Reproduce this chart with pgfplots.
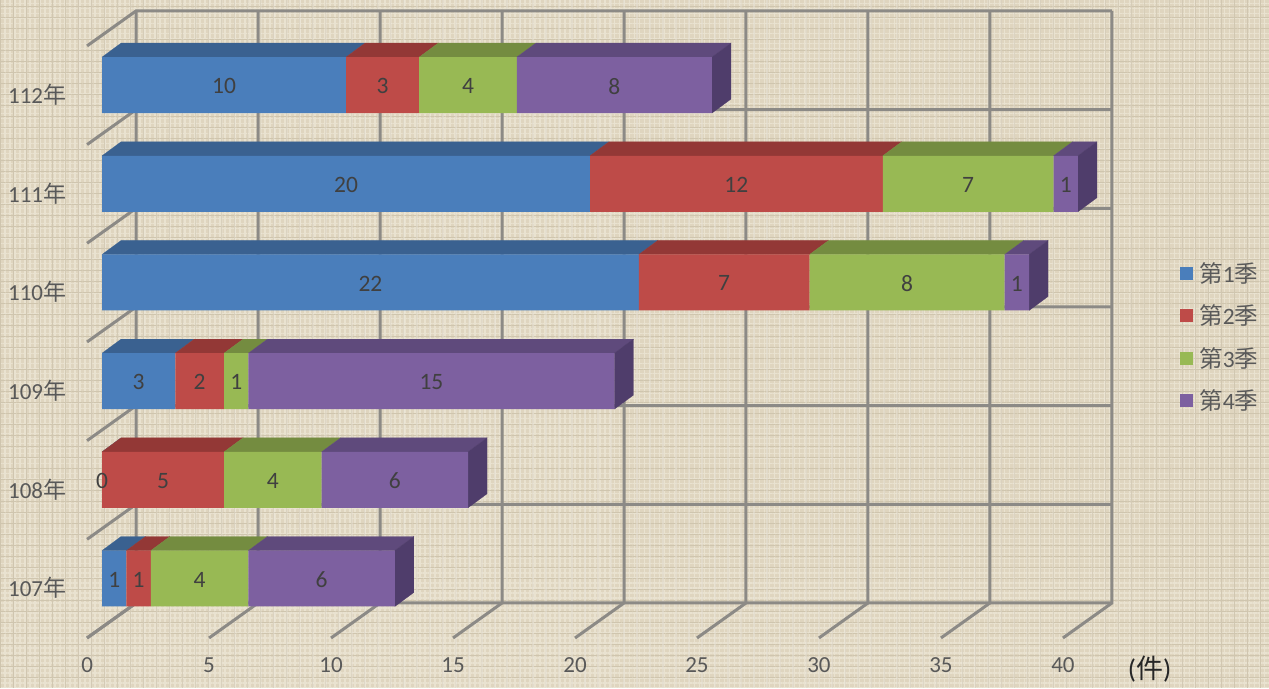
\documentclass[border=0pt]{standalone}
\usepackage{fontspec}
\setmainfont{Carlito}
\newfontfamily\cjk{Noto Sans CJK TC}
\usepackage{pgfplots}
\usepackage{pgfplotstable}
\pgfplotsset{compat=1.18}
\usetikzlibrary{patterns.meta}

\definecolor{bgbase}{HTML}{DFD5BF}
\definecolor{bglight}{HTML}{E9E2D0}
\definecolor{bgdark}{HTML}{CFC5AE}
\definecolor{gridgray}{HTML}{8C8A86}
\definecolor{txt}{HTML}{595959}
\definecolor{qa}{HTML}{4A7EBB}
\definecolor{qb}{HTML}{BE4B48}
\definecolor{qc}{HTML}{98B954}
\definecolor{qd}{HTML}{7D60A0}
\definecolor{qatop}{HTML}{3A6190}
\definecolor{qbtop}{HTML}{933836}
\definecolor{qctop}{HTML}{748C40}
\definecolor{qdtop}{HTML}{5F4A7C}
\definecolor{qdside}{HTML}{4F3D6B}

% quarter counts per year, cat = row on the y axis
\pgfplotstableread{
cat Q1 Q2 Q3 Q4
0   1  1  4  6
1   0  5  4  6
2   3  2  1  15
3   22 7  8  1
4   20 12 7  1
5   10 3  4  8
}\counts

% fake 3D depth, in axis units
\def\hh{0.2837}
\def\dx{0.7787}
\def\dy{0.1418}

\newcommand{\topface}[4]{%
  \addplot[forget plot,fill=#4,draw=#4,line width=0.2pt] coordinates {
    ({#2},{#1+\hh}) ({#3},{#1+\hh}) ({#3+\dx},{#1+\hh+\dy}) ({#2+\dx},{#1+\hh+\dy}) ({#2},{#1+\hh})};
}
% one year: top faces of the four segments and the side face of the last
\newcommand{\depth}[5]{%
  \topface{#1}{0}{#2}{qatop}
  \topface{#1}{#2}{#2+#3}{qbtop}
  \topface{#1}{#2+#3}{#2+#3+#4}{qctop}
  \topface{#1}{#2+#3+#4}{#2+#3+#4+#5}{qdtop}
  \addplot[forget plot,fill=qdside,draw=qdside,line width=0.2pt] coordinates {
    ({#2+#3+#4+#5},{#1-\hh}) ({#2+#3+#4+#5},{#1+\hh})
    ({#2+#3+#4+#5+\dx},{#1+\hh+\dy}) ({#2+#3+#4+#5+\dx},{#1-\hh+\dy})
    ({#2+#3+#4+#5},{#1-\hh})};
}
\newcommand{\qname}[1]{{\cjk 第}#1{\cjk 季}}
\newcommand{\yr}[1]{#1{\cjk 年}}

\pgfplotsset{
  barseg/.style 2 args={
    xbar, bar shift=0pt, stack plots=x, bar width=56pt, fill=#1, draw=none,
    point meta={\thisrow{#2}},
    visualization depends on={\thisrow{#2} \as \myv},
    nodes near coords,
    nodes near coords style={anchor=center, xshift={-12.2*\myv}, yshift=-1pt, text=black!75, font=\fontsize{23.5}{23.5}\selectfont},
  },
}

\begin{document}
\begin{tikzpicture}
\begin{axis}[
    width=1269pt, height=688pt, scale only axis,
    xmin=-4.1803, xmax=47.828,
    ymin=-1.1094, ymax=5.8612,
    axis line style={draw=none},
    major tick length=0pt,
    axis background/.style={
      fill=bgbase,
      postaction={pattern={Lines[angle=0,distance=5pt,line width=1.2pt]},pattern color=bglight},
      postaction={pattern={Lines[angle=90,distance=5pt,line width=1.2pt]},pattern color=bglight},
      postaction={pattern={Lines[angle=0,distance=11pt,line width=0.7pt]},pattern color=bgdark},
      postaction={pattern={Lines[angle=90,distance=13pt,line width=0.7pt]},pattern color=bgdark},
    },
    /pgf/number format/assume math mode=true,
    xtick={-0.6148,4.3852,9.3852,14.3852,19.3852,24.3852,29.3852,34.3852,39.3852},
    xticklabels={0,5,10,15,20,25,30,35,40},
    xticklabel style={anchor=center, yshift=23pt, text=txt, font=\fontsize{23}{23}\selectfont},
    ytick={-0.096,0.904,1.904,2.904,3.904,4.904},
    yticklabels={\yr{107},\yr{108},\yr{109},\yr{110},\yr{111},\yr{112}},
    yticklabel style={anchor=east, xshift=69.5pt, text=txt, font=\fontsize{23}{23}\selectfont},
    legend style={at={(axis description cs:0.9303,0.6215)}, anchor=north west,
      draw=none, fill=none, inner sep=0pt, outer sep=0pt,
      row sep=17pt, font=\fontsize{23.5}{28}\selectfont, text=txt,
      /tikz/every odd column/.append style={column sep=4pt}},
    legend cell align=left,
    legend image code/.code={\fill[#1] (0pt,-6.5pt) rectangle (13pt,6.5pt);},
]

% back wall and side wall grid
\pgfplotsinvokeforeach{0,...,8}{
  \addplot[forget plot,gridgray,line width=3pt] coordinates {({-0.6148+5*#1},-0.6028) ({1.3934+5*#1},-0.2482) ({1.3934+5*#1},5.7518)};
}
\pgfplotsinvokeforeach{0,...,6}{
  \addplot[forget plot,gridgray,line width=3pt] coordinates {(-0.6148,{-0.6028+#1}) (1.3934,{-0.2482+#1}) (41.3934,{-0.2482+#1})};
}

\depth{0}{1}{1}{4}{6}
\depth{1}{0}{5}{4}{6}
\depth{2}{3}{2}{1}{15}
\depth{3}{22}{7}{8}{1}
\depth{4}{20}{12}{7}{1}
\depth{5}{10}{3}{4}{8}

\addplot[barseg={qa}{Q1}] table [x=Q1,y=cat] {\counts};
\addlegendentry{\qname{1}}
\addplot[barseg={qb}{Q2}] table [x=Q2,y=cat] {\counts};
\addlegendentry{\qname{2}}
\addplot[barseg={qc}{Q3}] table [x=Q3,y=cat] {\counts};
\addlegendentry{\qname{3}}
\addplot[barseg={qd}{Q4}] table [x=Q4,y=cat] {\counts};
\addlegendentry{\qname{4}}

\node[anchor=center,text=black!85,font=\fontsize{27}{27}\selectfont] at (axis cs:42.94,-0.92) {({\cjk 件})};
\end{axis}
\end{tikzpicture}
\end{document}
